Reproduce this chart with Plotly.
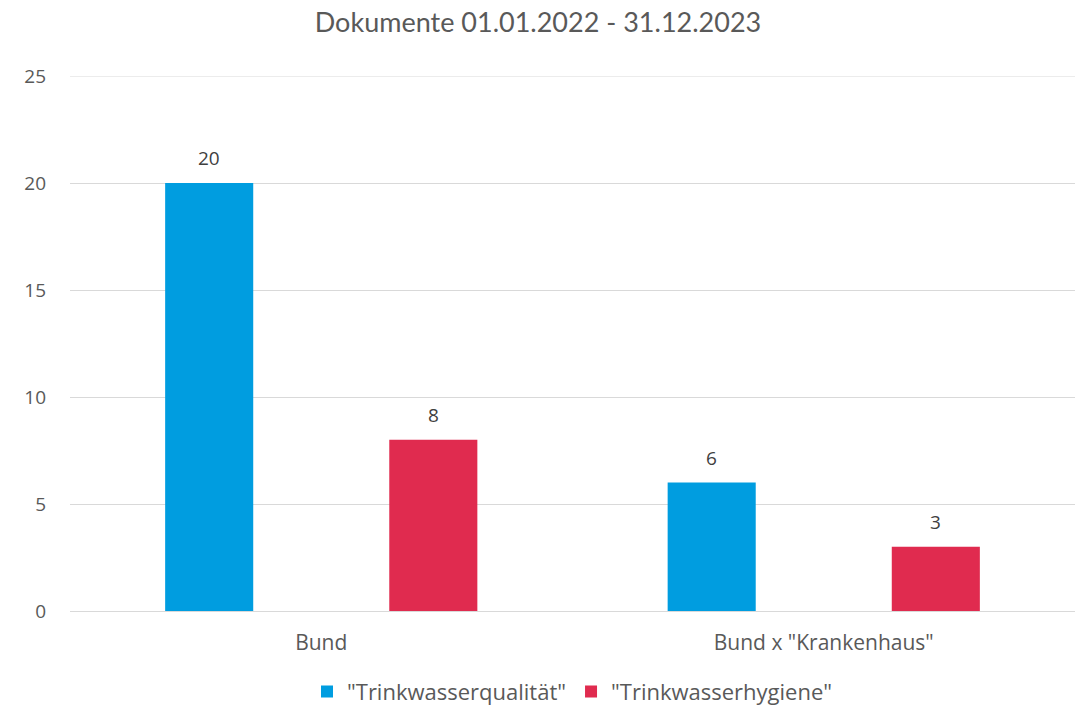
import plotly.graph_objects as go

categories = ["Bund", "Bund x \"Krankenhaus\""]
series_names = ["\"Trinkwasserqualität\"", "\"Trinkwasserhygiene\""]
qualitaet = [20, 6]
hygiene = [8, 3]
y_ticks = [0, 5, 10, 15, 20, 25]

colors = ["#009DE0", "#E02B4F"]
text_font = "Open Sans"
W, H = 1076, 707
ML, MR, MT, MB = 70, 1, 76, 96

fig = go.Figure()
for name, vals, col in zip(series_names, [qualitaet, hygiene], colors):
    fig.add_trace(go.Bar(
        x=categories, y=vals, name=name, marker=dict(color=col, line=dict(width=0)),
    ))

# data labels above bars
plot_w = W - ML - MR
cat_w = plot_w / len(categories)
offset = 112 / cat_w
for si, vals in enumerate([qualitaet, hygiene]):
    sign = -1 if si == 0 else 1
    for ci, v in enumerate(vals):
        fig.add_annotation(x=ci + sign * offset, y=v, text=str(v), showarrow=False,
                           yanchor="middle", yshift=25, xref="x", yref="y",
                           font=dict(family=text_font, size=19, color="#404040"))

# top gridline at the last tick
fig.add_shape(type="line", xref="paper", yref="y", x0=0, x1=1,
              y0=y_ticks[-1], y1=y_ticks[-1], line=dict(color="#D9D9D9", width=1),
              layer="below")

fig.update_layout(
    width=W, height=H,
    paper_bgcolor="white", plot_bgcolor="white",
    margin=dict(l=ML, r=MR, t=MT, b=MB, autoexpand=False),
    title=dict(text="Dokumente 01.01.2022 - 31.12.2023", x=0.5, xanchor="center",
               y=1 - 23 / H, yanchor="middle",
               font=dict(family="Lato", size=27, color="#595959")),
    barmode="group", bargap=0.108, bargroupgap=0.607,
    showlegend=True,
    legend=dict(orientation="h", x=0.5, xanchor="center", y=-0.151, yanchor="middle",
                font=dict(family=text_font, size=22, color="#595959"),
                itemwidth=30, traceorder="normal"),
    font=dict(family=text_font, color="#595959"),
)
fig.update_xaxes(showgrid=False, showline=True, linecolor="#D9D9D9", linewidth=1,
                 ticks="", tickfont=dict(family=text_font, size=21, color="#595959"),
                 ticklabelstandoff=13)
fig.update_yaxes(range=[0, 25], tickvals=y_ticks, showgrid=True, gridcolor="#D9D9D9",
                 gridwidth=1, zeroline=False, showline=False, ticks="",
                 tickfont=dict(family=text_font, size=19, color="#595959"), ticklabelstandoff=23)

fig.write_html("out.html", config={"displayModeBar": False},
               post_script="document.body.style.margin='0';document.body.style.overflow='hidden';")
